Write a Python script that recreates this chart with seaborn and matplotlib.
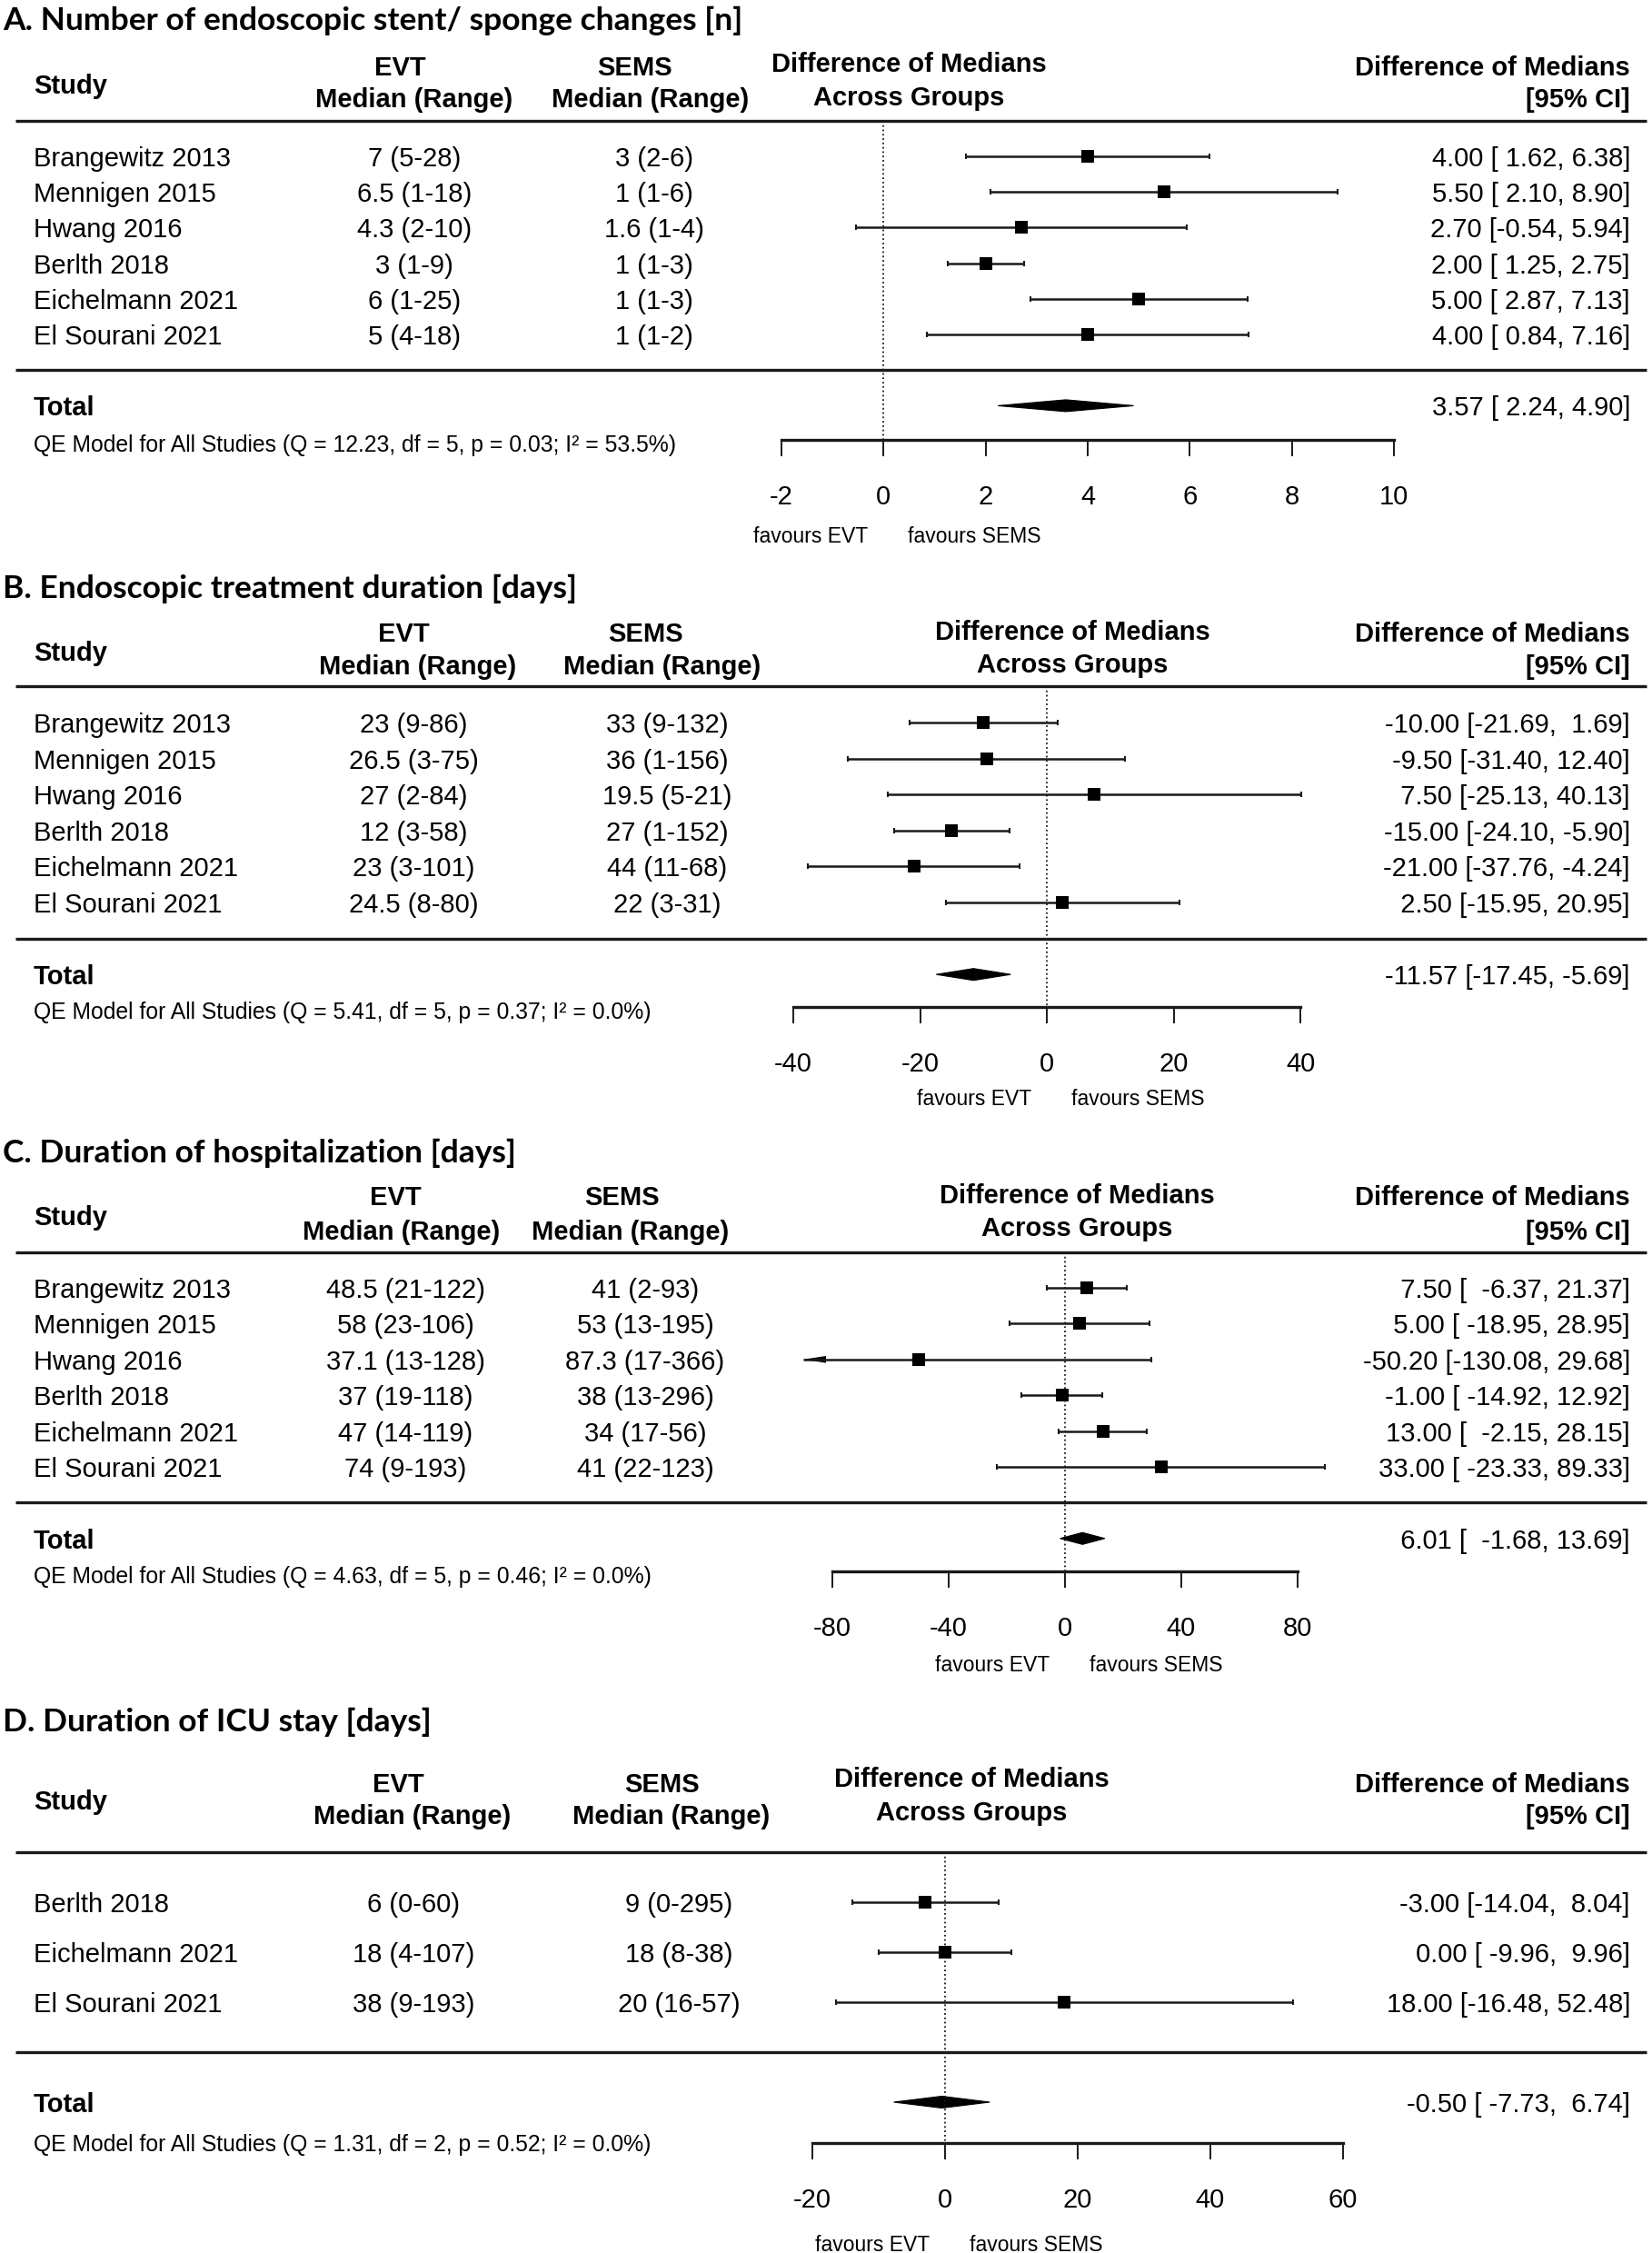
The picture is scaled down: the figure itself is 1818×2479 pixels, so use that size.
import matplotlib
matplotlib.use("Agg")
import matplotlib.pyplot as plt
import matplotlib.transforms as mtransforms
import seaborn as sns
import pandas as pd

W, H = 1818, 2479

# ---------------- data ----------------
titles = ["A. Number of endoscopic stent/ sponge changes [n]",
          "B. Endoscopic treatment duration [days]",
          "C. Duration of hospitalization [days]",
          "D. Duration of ICU stay [days]"]

studies_6 = ["Brangewitz 2013", "Mennigen 2015", "Hwang 2016", "Berlth 2018",
             "Eichelmann 2021", "El Sourani 2021"]
studies_3 = ["Berlth 2018", "Eichelmann 2021", "El Sourani 2021"]

# A. stent/ sponge changes
evt_a = ["7 (5-28)", "6.5 (1-18)", "4.3 (2-10)", "3 (1-9)", "6 (1-25)", "5 (4-18)"]
sems_a = ["3 (2-6)", "1 (1-6)", "1.6 (1-4)", "1 (1-3)", "1 (1-3)", "1 (1-2)"]
est_a = [4.00, 5.50, 2.70, 2.00, 5.00, 4.00]
lo_a = [1.62, 2.10, -0.54, 1.25, 2.87, 0.84]
hi_a = [6.38, 8.90, 5.94, 2.75, 7.13, 7.16]
total_a = [3.57, 2.24, 4.90]
qe_a = [12.23, 5, 0.03, 53.5]
ticks_a = [-2, 0, 2, 4, 6, 8, 10]

# B. treatment duration
evt_b = ["23 (9-86)", "26.5 (3-75)", "27 (2-84)", "12 (3-58)", "23 (3-101)", "24.5 (8-80)"]
sems_b = ["33 (9-132)", "36 (1-156)", "19.5 (5-21)", "27 (1-152)", "44 (11-68)", "22 (3-31)"]
est_b = [-10.00, -9.50, 7.50, -15.00, -21.00, 2.50]
lo_b = [-21.69, -31.40, -25.13, -24.10, -37.76, -15.95]
hi_b = [1.69, 12.40, 40.13, -5.90, -4.24, 20.95]
total_b = [-11.57, -17.45, -5.69]
qe_b = [5.41, 5, 0.37, 0.0]
ticks_b = [-40, -20, 0, 20, 40]

# C. hospitalization
evt_c = ["48.5 (21-122)", "58 (23-106)", "37.1 (13-128)", "37 (19-118)", "47 (14-119)", "74 (9-193)"]
sems_c = ["41 (2-93)", "53 (13-195)", "87.3 (17-366)", "38 (13-296)", "34 (17-56)", "41 (22-123)"]
est_c = [7.50, 5.00, -50.20, -1.00, 13.00, 33.00]
lo_c = [-6.37, -18.95, -130.08, -14.92, -2.15, -23.33]
hi_c = [21.37, 28.95, 29.68, 12.92, 28.15, 89.33]
total_c = [6.01, -1.68, 13.69]
qe_c = [4.63, 5, 0.46, 0.0]
ticks_c = [-80, -40, 0, 40, 80]

# D. ICU stay
evt_d = ["6 (0-60)", "18 (4-107)", "38 (9-193)"]
sems_d = ["9 (0-295)", "18 (8-38)", "20 (16-57)"]
est_d = [-3.00, 0.00, 18.00]
lo_d = [-14.04, -9.96, -16.48]
hi_d = [8.04, 9.96, 52.48]
total_d = [-0.50, -7.73, 6.74]
qe_d = [1.31, 2, 0.52, 0.0]
ticks_d = [-20, 0, 20, 40, 60]

panels = [
    (titles[0], studies_6, evt_a, sems_a, est_a, lo_a, hi_a, total_a, qe_a, ticks_a),
    (titles[1], studies_6, evt_b, sems_b, est_b, lo_b, hi_b, total_b, qe_b, ticks_b),
    (titles[2], studies_6, evt_c, sems_c, est_c, lo_c, hi_c, total_c, qe_c, ticks_c),
    (titles[3], studies_3, evt_d, sems_d, est_d, lo_d, hi_d, total_d, qe_d, ticks_d),
]

# ---------------- layout (pixels) ----------------
layouts = [
    dict(title=20, h1=72, h2=107, study=92, d1=68, d2=105, first=172, step=39.2,
         qe=488, axis=484, fav=588, evt_h=440, evt_s=456, evt_v=456,
         sems_h=698, sems_s=716, sems_v=720, diff=1000, px_lo=860, px_hi=1534, clip=None),
    dict(title=645, h1=695, h2=731, study=716, d1=693, d2=729, first=795, step=39.6,
         qe=1112, axis=1108, fav=1207, evt_h=444, evt_s=460, evt_v=455,
         sems_h=710, sems_s=729, sems_v=734, diff=1180, px_lo=873, px_hi=1431, clip=None),
    dict(title=1266, h1=1315, h2=1353, study=1337, d1=1313, d2=1349, first=1417, step=39.4,
         qe=1732, axis=1729, fav=1830, evt_h=435, evt_s=442, evt_v=446,
         sems_h=684, sems_s=694, sems_v=710, diff=1185, px_lo=916, px_hi=1428, clip=-90),
    dict(title=1892, h1=1961, h2=1996, study=1980, d1=1955, d2=1992, first=2093, step=55,
         qe=2358, axis=2358, fav=2468, evt_h=438, evt_s=454, evt_v=455,
         sems_h=728, sems_s=739, sems_v=747, diff=1069, px_lo=894, px_hi=1478, clip=None),
]

FS = 21
LINE = "#1a1a1a"

sns.set_theme(style="white")
plt.rcParams["font.family"] = ["Liberation Sans", "DejaVu Sans"]
plt.rcParams["axes.unicode_minus"] = False
plt.rcParams["text.color"] = "black"

fig = plt.figure(figsize=(W / 100, H / 100), dpi=100)


def fx(x):
    return x / W


def fy(y):
    return 1 - y / H


def pad_col(vals):
    s = ["%.2f" % v for v in vals]
    w = max(len(t) for t in s)
    return [t.rjust(w) for t in s]


title_texts = []
for (title, studies, evt, sems, est, lo, hi, total, qe, ticks), L in zip(panels, layouts):
    n = len(studies)
    first, step = L["first"], L["step"]

    def row_of(p):
        return (p - first) / step

    top_px = first - step - 12
    bot_px = L["axis"] + 12
    ax = fig.add_axes([0, fy(bot_px), 1, (bot_px - top_px) / H])
    ax.patch.set_alpha(0)
    k = (ticks[-1] - ticks[0]) / (L["px_hi"] - L["px_lo"])
    blend = mtransforms.blended_transform_factory(ax.transAxes, ax.transData)

    # title and column headers
    title_texts.append(fig.text(fx(3), fy(L["title"]), title, ha="left", va="center_baseline",
                                fontsize=25, fontweight="bold", family=["Lato", "DejaVu Sans"]))
    hd = dict(fontsize=FS, fontweight="bold", va="center_baseline")
    fig.text(fx(37), fy(L["study"]), "Study", ha="left", **hd)
    fig.text(fx(L["evt_h"]), fy(L["h1"]), "EVT", ha="center", **hd)
    fig.text(fx(L["evt_s"]), fy(L["h2"]), "Median (Range)", ha="center", **hd)
    fig.text(fx(L["sems_h"]), fy(L["h1"]), "SEMS", ha="center", **hd)
    fig.text(fx(L["sems_s"]), fy(L["h2"]), "Median (Range)", ha="center", **hd)
    fig.text(fx(L["diff"]), fy(L["d1"]), "Difference of Medians", ha="center", **hd)
    fig.text(fx(L["diff"]), fy(L["d2"]), "Across Groups", ha="center", **hd)
    fig.text(fx(1794), fy(L["h1"]), "Difference of Medians", ha="right", **hd)
    fig.text(fx(1794), fy(L["h2"]), "[95% CI]", ha="right", **hd)

    # table text
    rows = list(range(n))
    e_s = pad_col(est + [total[0]])
    l_s = pad_col(lo + [total[1]])
    h_s = pad_col(hi + [total[2]])
    ci_lbl = ["%s [%s, %s]" % t for t in zip(e_s, l_s, h_s)]
    for r, name, ev, se in zip(rows, studies, evt, sems):
        ax.text(fx(37), r, name, transform=blend, ha="left", va="center_baseline", fontsize=FS)
        ax.text(fx(L["evt_v"]), r, ev, transform=blend, ha="center", va="center_baseline", fontsize=FS)
        ax.text(fx(L["sems_v"]), r, se, transform=blend, ha="center", va="center_baseline", fontsize=FS)
        ax.text(fx(1794), r, ci_lbl[r], transform=blend, ha="right", va="center_baseline", fontsize=FS)
    ax.text(fx(37), n + 1, "Total", transform=blend, ha="left", va="center_baseline",
            fontsize=FS, fontweight="bold")
    ax.text(fx(1794), n + 1, ci_lbl[-1], transform=blend, ha="right", va="center_baseline", fontsize=FS)
    q_txt = "QE Model for All Studies (Q = %.2f, df = %d, p = %.2f; I\u00b2 = %.1f%%)" % tuple(qe)
    ax.text(fx(37), row_of(L["qe"]), q_txt, transform=blend, ha="left", va="center_baseline", fontsize=17.8)

    # rules
    for yr in (-1, n):
        ax.plot([fx(17), fx(1812)], [yr, yr], transform=blend, color=LINE, lw=2.4,
                solid_capstyle="butt", clip_on=False)
    # reference line at zero
    ax.plot([0, 0], [-1, row_of(L["axis"])], color=LINE, lw=1.3, ls=":", clip_on=False)

    # confidence intervals
    lo_draw = [max(v, L["clip"]) if L["clip"] is not None else v for v in lo]
    ax.hlines(rows, lo_draw, hi, color=LINE, lw=1.8, clip_on=False)
    cap_x, cap_y = [], []
    for r, a, b in zip(rows, lo, hi):
        if L["clip"] is None or a >= L["clip"]:
            cap_x.append(a)
            cap_y.append(r)
        cap_x.append(b)
        cap_y.append(r)
    ax.plot(cap_x, cap_y, ls="none", marker="|", markersize=4, mew=1.5, color=LINE, clip_on=False)
    for r, a in zip(rows, lo):
        if L["clip"] is not None and a < L["clip"]:
            tip = L["clip"]
            base = tip + 25 * k
            hh = 3.8 / step
            ax.fill([tip, base, base], [r, r - hh, r + hh], color="black", lw=0, clip_on=False)

    # point estimates
    df = pd.DataFrame({"est": est, "row": rows})
    sns.scatterplot(data=df, x="est", y="row", marker="s", s=88, color="black",
                    linewidth=0, ax=ax, legend=False, clip_on=False, zorder=3)

    # summary diamond
    dh = 6.5 / step
    ax.fill([total[1], total[0], total[2], total[0]],
            [n + 1, n + 1 - dh, n + 1, n + 1 + dh], color="black", lw=0.8, clip_on=False)

    # axis
    ax.set_xlim(ticks[0] - L["px_lo"] * k, ticks[-1] + (W - L["px_hi"]) * k)
    ax.set_ylim(row_of(bot_px), row_of(top_px))
    ax.set_xlabel("")
    ax.set_ylabel("")
    ax.set_yticks([])
    for sp in ("top", "left", "right"):
        ax.spines[sp].set_visible(False)
    ax.spines["bottom"].set_position(("data", row_of(L["axis"])))
    ax.spines["bottom"].set_bounds(ticks[0], ticks[-1])
    ax.spines["bottom"].set_linewidth(2.4)
    ax.spines["bottom"].set_color(LINE)
    ax.set_xticks(ticks)
    ax.set_xticklabels([str(t) for t in ticks])
    ax.tick_params(axis="x", bottom=True, direction="out", length=13, width=1.4,
                   color=LINE, pad=22, labelsize=FS, labelcolor="black")

    ax.annotate("favours EVT", xy=(0, row_of(L["fav"])), xytext=(-80, 0),
                textcoords="offset pixels", ha="center", va="center_baseline",
                fontsize=16.5, annotation_clip=False)
    ax.annotate("favours SEMS", xy=(0, row_of(L["fav"])), xytext=(100, 0),
                textcoords="offset pixels", ha="center", va="center_baseline",
                fontsize=16.5, annotation_clip=False)

# fit the panel title size to the reference width
renderer = fig.canvas.get_renderer()
w0 = title_texts[0].get_window_extent(renderer).width
for t in title_texts:
    t.set_fontsize(25 * 815 / w0)

fig.savefig("out.png", dpi=100, facecolor="white")
